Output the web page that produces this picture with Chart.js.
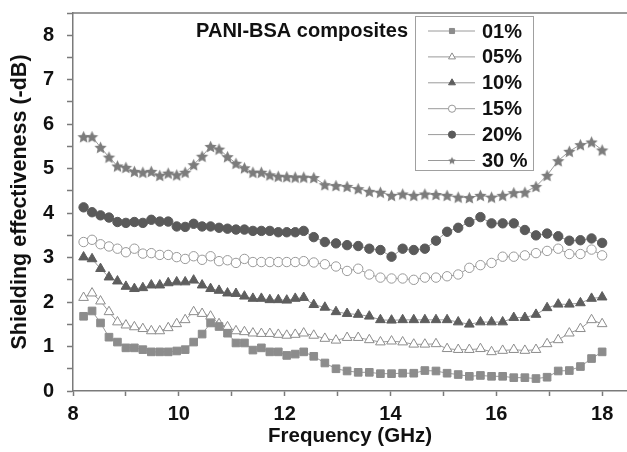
<!DOCTYPE html>
<html>
<head>
<meta charset="utf-8">
<script src="https://cdn.jsdelivr.net/npm/chart.js@4/dist/chart.umd.min.js"></script>
<style>
  html, body { margin: 0; padding: 0; background: #fff; }
  canvas { display: block; }
</style>
</head>
<body>
<canvas id="seChart" width="627" height="452"></canvas>
<script>
// Frekuensi pengukuran (GHz): pita X lalu pita Ku
const freq = [
    8.20, 8.36, 8.52, 8.68, 8.84, 9.00, 9.16, 9.32, 9.48, 9.64, 9.80, 9.96, 10.12, 10.28,
    10.44, 10.60, 10.76, 10.92, 11.08, 11.24, 11.40, 11.56, 11.72, 11.88, 12.04, 12.20, 12.36,
    12.55, 12.76, 12.97, 13.18, 13.39, 13.60, 13.81, 14.02, 14.23, 14.44, 14.65, 14.86, 15.07,
    15.28, 15.49, 15.70, 15.91, 16.12, 16.33, 16.54, 16.75, 16.96, 17.17, 17.38, 17.59, 17.80, 18.00
];

// Shielding effectiveness (-dB) tiap komposisi
const se01 = [
    1.68, 1.80, 1.53, 1.21, 1.10, 0.97, 0.97, 0.93, 0.88, 0.88, 0.88, 0.90, 0.93, 1.10,
    1.28, 1.53, 1.45, 1.30, 1.08, 1.08, 0.92, 0.97, 0.88, 0.88, 0.80, 0.83, 0.88,
    0.78, 0.63, 0.50, 0.45, 0.42, 0.42, 0.39, 0.39, 0.40, 0.40, 0.46, 0.45, 0.40,
    0.37, 0.33, 0.35, 0.33, 0.33, 0.30, 0.30, 0.28, 0.31, 0.45, 0.46, 0.55, 0.73, 0.88
];
const se05 = [
    2.10, 2.20, 2.02, 1.78, 1.55, 1.48, 1.44, 1.40, 1.35, 1.35, 1.42, 1.51, 1.60, 1.78,
    1.74, 1.68, 1.51, 1.44, 1.35, 1.33, 1.30, 1.29, 1.29, 1.27, 1.25, 1.27, 1.30,
    1.25, 1.18, 1.14, 1.20, 1.20, 1.15, 1.10, 1.12, 1.10, 1.05, 1.05, 1.06, 0.95,
    0.93, 0.93, 0.95, 0.88, 0.91, 0.93, 0.91, 0.93, 1.06, 1.15, 1.30, 1.40, 1.60, 1.51
];
const se10 = [
    3.01, 2.97, 2.75, 2.56, 2.47, 2.35, 2.30, 2.32, 2.38, 2.38, 2.43, 2.45, 2.45, 2.49,
    2.38, 2.30, 2.26, 2.20, 2.19, 2.13, 2.08, 2.08, 2.05, 2.05, 2.04, 2.08, 2.10,
    1.94, 1.88, 1.78, 1.74, 1.72, 1.68, 1.60, 1.59, 1.60, 1.60, 1.60, 1.60, 1.60,
    1.55, 1.50, 1.55, 1.55, 1.55, 1.65, 1.65, 1.72, 1.87, 1.95, 1.95, 1.98, 2.08, 2.11
];
const se15 = [
    3.35, 3.40, 3.30, 3.25, 3.20, 3.12, 3.20, 3.09, 3.10, 3.06, 3.06, 3.01, 2.97, 3.03,
    2.95, 3.03, 2.92, 2.94, 2.88, 2.97, 2.90, 2.90, 2.90, 2.90, 2.90, 2.90, 2.92,
    2.89, 2.85, 2.80, 2.70, 2.75, 2.62, 2.55, 2.53, 2.53, 2.50, 2.55, 2.55, 2.58,
    2.62, 2.77, 2.83, 2.88, 3.02, 3.02, 3.05, 3.10, 3.15, 3.20, 3.08, 3.08, 3.18, 3.05
];
const se20 = [
    4.13, 4.02, 3.95, 3.90, 3.80, 3.78, 3.80, 3.78, 3.85, 3.81, 3.81, 3.70, 3.69, 3.76,
    3.70, 3.70, 3.67, 3.65, 3.63, 3.63, 3.60, 3.60, 3.60, 3.57, 3.57, 3.57, 3.60,
    3.46, 3.35, 3.32, 3.28, 3.26, 3.20, 3.17, 3.02, 3.20, 3.17, 3.20, 3.38, 3.58,
    3.67, 3.80, 3.91, 3.77, 3.77, 3.77, 3.62, 3.50, 3.54, 3.48, 3.38, 3.39, 3.43, 3.33
];
const se30 = [
    5.72, 5.72, 5.48, 5.26, 5.06, 5.03, 4.94, 4.92, 4.94, 4.85, 4.90, 4.86, 4.92, 5.09,
    5.28, 5.50, 5.44, 5.27, 5.12, 5.02, 4.92, 4.92, 4.86, 4.83, 4.82, 4.81, 4.81,
    4.80, 4.64, 4.62, 4.60, 4.55, 4.49, 4.47, 4.40, 4.43, 4.40, 4.43, 4.42, 4.40,
    4.36, 4.35, 4.40, 4.36, 4.40, 4.46, 4.47, 4.60, 4.85, 5.18, 5.39, 5.54, 5.60, 5.42
];

const seriesLabels = ['01%', '05%', '10%', '15%', '20%', '30 %'];
const xTickLabels = [8, 10, 12, 14, 16, 18];
const yTickLabels = [0, 1, 2, 3, 4, 5, 6, 7, 8];

const fontFamily = '"Liberation Sans", Arial, Helvetica, sans-serif';
const garisWarna = '#9a9a9a';
const sumbuWarna = '#7a7a7a';

// Bintang isi 5 sudut (Chart.js cuma punya 'star' berupa garis)
function buatBintang(r, warna) {
    const c = document.createElement('canvas');
    const s = Math.ceil(r * 2 + 2);
    c.width = s;
    c.height = s;
    const g = c.getContext('2d');
    g.fillStyle = warna;
    g.beginPath();
    for (let i = 0; i < 10; i++) {
        const rad = i % 2 === 0 ? r : r * 0.48;
        const a = -Math.PI / 2 + i * Math.PI / 5;
        g.lineTo(s / 2 + rad * Math.cos(a), s / 2 + rad * Math.sin(a) + r * 0.1);
    }
    g.closePath();
    g.fill();
    return c;
}

const bintangBesar = buatBintang(6.5, '#7c7c7c');
const bintangKecil = buatBintang(4, '#7c7c7c');

function titik(ys) {
    return freq.map((f, i) => ({ x: f, y: ys[i] }));
}

function seri(label, ys, gaya) {
    return Object.assign({
        label: label,
        data: titik(ys),
        borderColor: garisWarna,
        borderWidth: 1,
        tension: 0,
        pointBorderWidth: 1,
        clip: false
    }, gaya);
}

const datasets = [
    seri(seriesLabels[0], se01, { pointStyle: 'rect', pointRadius: 5.4, pointBackgroundColor: '#8c8c8c', pointBorderColor: '#8c8c8c', legendRadius: 3.6 }),
    seri(seriesLabels[1], se05, { pointStyle: 'triangle', pointRadius: 5.6, pointBackgroundColor: '#ffffff', pointBorderColor: '#8c8c8c', legendRadius: 4 }),
    seri(seriesLabels[2], se10, { pointStyle: 'triangle', pointRadius: 5.6, pointBackgroundColor: '#5e5e5e', pointBorderColor: '#5e5e5e', legendRadius: 4 }),
    seri(seriesLabels[3], se15, { pointStyle: 'circle', pointRadius: 4.7, pointBackgroundColor: '#ffffff', pointBorderColor: '#999999', legendRadius: 3.6 }),
    seri(seriesLabels[4], se20, { pointStyle: 'circle', pointRadius: 4.7, pointBackgroundColor: '#5a5a5a', pointBorderColor: '#5a5a5a', legendRadius: 3.6 }),
    seri(seriesLabels[5], se30, { pointStyle: bintangBesar, pointRadius: 6.5, pointBackgroundColor: '#7c7c7c', pointBorderColor: '#7c7c7c', legendStyle: bintangKecil, legendRadius: 4 })
];

// Garis bingkai atas, judul dan kotak legenda di dalam area plot
const legendaPlugin = {
    id: 'legenda',
    afterDraw(chart) {
        const ctx = chart.ctx;
        const area = chart.chartArea;
        ctx.save();

        ctx.strokeStyle = sumbuWarna;
        ctx.lineWidth = 1.5;
        ctx.beginPath();
        ctx.moveTo(area.left, area.top);
        ctx.lineTo(area.right, area.top);
        ctx.stroke();

        ctx.font = 'bold 20px ' + fontFamily;
        ctx.fillStyle = '#111';
        ctx.textAlign = 'right';
        ctx.textBaseline = 'middle';
        ctx.fillText('PANI-BSA composites', 408, 31);

        ctx.strokeStyle = '#a0a0a0';
        ctx.lineWidth = 1;
        ctx.strokeRect(415.5, 16.5, 118, 154);

        ctx.font = 'bold 20px ' + fontFamily;
        chart.data.datasets.forEach((ds, i) => {
            const y = 31 + i * 25.9;
            ctx.strokeStyle = garisWarna;
            ctx.lineWidth = 1;
            ctx.beginPath();
            ctx.moveTo(428, y);
            ctx.lineTo(475, y);
            ctx.stroke();

            ctx.fillStyle = ds.pointBackgroundColor;
            ctx.strokeStyle = ds.pointBorderColor;
            Chart.helpers.drawPoint(ctx, {
                pointStyle: ds.legendStyle || ds.pointStyle,
                radius: ds.legendRadius,
                rotation: 0,
                borderWidth: 1
            }, 452, y);

            ctx.fillStyle = '#111';
            ctx.textAlign = 'left';
            ctx.fillText(ds.label, 482, y + 1);
        });
        ctx.restore();
    }
};

new Chart(document.getElementById('seChart'), {
    type: 'line',
    data: { datasets: datasets },
    options: {
        responsive: false,
        animation: false,
        devicePixelRatio: 1,
        layout: { autoPadding: false, padding: { top: 13, right: 0, bottom: 0, left: 0 } },
        plugins: {
            legend: { display: false },
            tooltip: { enabled: false }
        },
        scales: {
            x: {
                type: 'linear',
                min: 8,
                max: 18.47,
                afterFit: function(scale) {
                    scale.height = 61;
                    scale.paddingLeft = 0;
                    scale.paddingRight = 0;
                },
                border: { color: sumbuWarna, width: 1.5 },
                grid: { drawOnChartArea: false, tickLength: 5, tickColor: sumbuWarna, tickWidth: 1.5 },
                ticks: {
                    stepSize: 1,
                    includeBounds: false,
                    autoSkip: false,
                    maxRotation: 0,
                    padding: 6,
                    color: '#111',
                    font: { family: fontFamily, size: 20, weight: 'bold' },
                    callback: function(v) { return xTickLabels.includes(v) ? v : ''; }
                },
                title: {
                    display: true,
                    text: 'Frequency (GHz)',
                    color: '#111',
                    font: { family: fontFamily, size: 20.5, weight: 'bold' },
                    padding: { top: 0, bottom: 3 }
                }
            },
            y: {
                min: 0,
                max: 8.5,
                afterFit: function(scale) {
                    scale.width = 73;
                    scale.paddingTop = 0;
                    scale.paddingBottom = 0;
                },
                border: { color: sumbuWarna, width: 1.5 },
                grid: { drawOnChartArea: false, tickLength: 6, tickColor: sumbuWarna, tickWidth: 1.5 },
                ticks: {
                    stepSize: 0.5,
                    includeBounds: false,
                    autoSkip: false,
                    padding: 13,
                    color: '#111',
                    font: { family: fontFamily, size: 20, weight: 'bold' },
                    callback: function(v) { return yTickLabels.includes(v) ? v : ''; }
                },
                title: {
                    display: true,
                    text: 'Shielding effectiveness (-dB)',
                    color: '#111',
                    font: { family: fontFamily, size: 21.5, weight: 'bold' },
                    padding: { top: 7, bottom: 0 }
                }
            }
        }
    },
    plugins: [legendaPlugin]
});
</script>
</body>
</html>
